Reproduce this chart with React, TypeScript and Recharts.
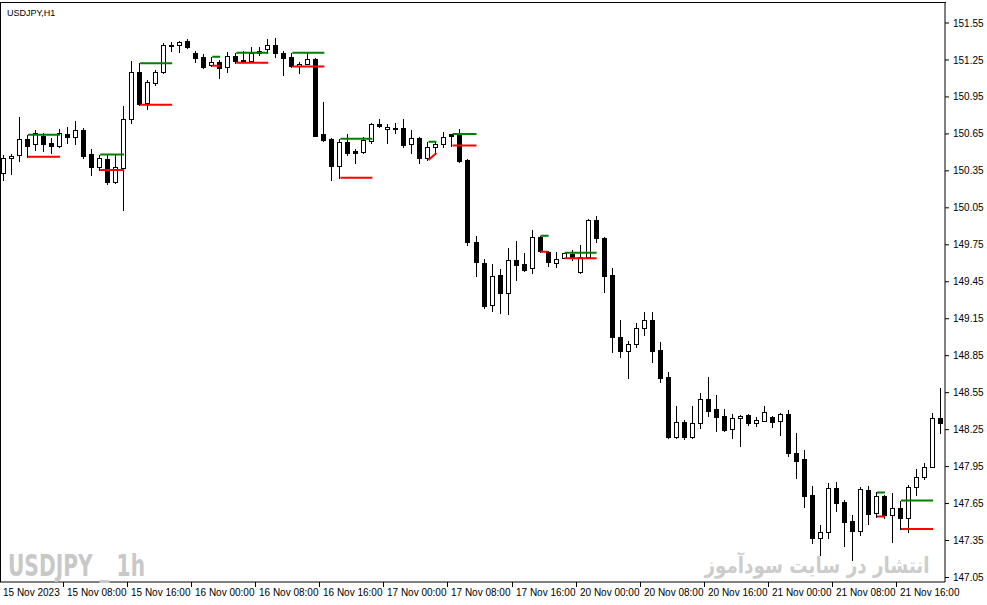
import React from 'react';
import { ComposedChart, Bar, Line, XAxis, YAxis } from 'recharts';

const opens = [
  150.333, 150.455, 150.479, 150.609, 150.568, 150.633, 150.576, 150.552, 150.650, 150.625,
  150.682, 150.487, 150.382, 150.447, 150.260, 150.374, 150.771, 151.153, 150.901, 151.063,
  151.153, 151.368, 151.372, 151.404, 151.307, 151.274, 151.210, 151.234, 151.193, 151.283,
  151.242, 151.242, 151.307, 151.339, 151.372, 151.307, 151.274, 151.201, 151.218, 151.258,
  150.650, 150.609, 150.390, 150.585, 150.512, 150.503, 150.593, 150.731, 150.690, 150.696,
  150.698, 150.568, 150.617, 150.455, 150.544, 150.568, 150.646, 150.650, 150.438, 149.773,
  149.603, 149.262, 149.505, 149.359, 149.627, 149.594, 149.562, 149.814, 149.692, 149.603,
  149.643, 149.676, 149.530, 149.651, 149.951, 149.806, 149.505, 149.002, 148.888, 148.945,
  149.075, 149.140, 148.897, 148.677, 148.190, 148.312, 148.190, 148.304, 148.499, 148.418,
  148.361, 148.255, 148.345, 148.369, 148.304, 148.320, 148.353, 148.320, 148.377, 148.061,
  148.012, 147.720, 147.370, 147.419, 147.777, 147.663, 147.509, 147.428, 147.760, 147.574,
  147.712, 147.557, 147.614, 147.533, 147.785, 147.866, 147.947, 148.345,
];
const highs = [
  150.479, 150.487, 150.788, 150.644, 150.682, 150.658, 150.617, 150.690, 150.706, 150.755,
  150.698, 150.528, 150.482, 150.479, 150.479, 150.877, 151.242, 151.223, 151.088, 151.169,
  151.388, 151.396, 151.404, 151.421, 151.323, 151.299, 151.277, 151.250, 151.315, 151.309,
  151.323, 151.356, 151.356, 151.421, 151.429, 151.323, 151.309, 151.234, 151.307, 151.266,
  150.909, 150.617, 150.611, 150.650, 150.528, 150.625, 150.739, 150.771, 150.731, 150.739,
  150.771, 150.682, 150.625, 150.587, 150.585, 150.666, 150.650, 150.690, 150.443, 149.822,
  149.635, 149.594, 149.554, 149.724, 149.781, 149.684, 149.870, 149.824, 149.696, 149.692,
  149.686, 149.708, 149.749, 149.960, 149.984, 149.810, 149.562, 149.140, 148.970, 149.116,
  149.205, 149.205, 148.962, 148.718, 148.442, 148.328, 148.442, 148.548, 148.677, 148.531,
  148.418, 148.377, 148.365, 148.377, 148.353, 148.442, 148.357, 148.381, 148.409, 148.223,
  148.085, 147.793, 147.476, 147.817, 147.825, 147.679, 147.557, 147.785, 147.793, 147.740,
  147.716, 147.736, 147.674, 147.801, 147.931, 147.980, 148.385, 148.588,
];
const lows = [
  150.276, 150.325, 150.430, 150.465, 150.520, 150.512, 150.495, 150.544, 150.576, 150.568,
  150.455, 150.317, 150.357, 150.244, 150.252, 150.033, 150.739, 150.887, 150.852, 151.047,
  151.145, 151.323, 151.315, 151.347, 151.234, 151.185, 151.204, 151.104, 151.153, 151.228,
  151.230, 151.238, 151.291, 151.307, 151.274, 151.128, 151.196, 151.145, 151.214, 150.629,
  150.593, 150.276, 150.295, 150.479, 150.414, 150.495, 150.576, 150.710, 150.576, 150.658,
  150.544, 150.495, 150.414, 150.438, 150.495, 150.544, 150.555, 150.422, 149.749, 149.497,
  149.237, 149.213, 149.197, 149.189, 149.465, 149.538, 149.521, 149.694, 149.578, 149.570,
  149.641, 149.627, 149.521, 149.643, 149.773, 149.367, 148.880, 148.840, 148.669, 148.921,
  149.018, 148.799, 148.637, 148.182, 148.186, 148.174, 148.182, 148.263, 148.361, 148.239,
  148.239, 148.182, 148.118, 148.288, 148.280, 148.316, 148.272, 148.207, 148.036, 147.858,
  147.623, 147.330, 147.233, 147.370, 147.590, 147.306, 147.192, 147.395, 147.484, 147.544,
  147.533, 147.338, 147.444, 147.419, 147.720, 147.850, 147.943, 148.223,
];
const closes = [
  150.455, 150.471, 150.609, 150.552, 150.658, 150.568, 150.552, 150.658, 150.625, 150.682,
  150.471, 150.382, 150.455, 150.260, 150.382, 150.771, 151.153, 150.893, 151.072, 151.153,
  151.372, 151.372, 151.396, 151.356, 151.266, 151.193, 151.234, 151.185, 151.283, 151.242,
  151.246, 151.307, 151.323, 151.372, 151.307, 151.266, 151.201, 151.218, 151.258, 150.633,
  150.601, 150.390, 150.585, 150.495, 150.495, 150.601, 150.731, 150.714, 150.706, 150.698,
  150.560, 150.617, 150.455, 150.544, 150.568, 150.625, 150.633, 150.430, 149.773, 149.611,
  149.254, 149.497, 149.359, 149.627, 149.586, 149.546, 149.814, 149.696, 149.611, 149.635,
  149.684, 149.643, 149.651, 149.951, 149.806, 149.497, 149.002, 148.888, 148.945, 149.075,
  149.140, 148.888, 148.669, 148.190, 148.312, 148.190, 148.304, 148.499, 148.401, 148.353,
  148.247, 148.345, 148.361, 148.304, 148.328, 148.393, 148.312, 148.377, 148.061, 147.996,
  147.712, 147.370, 147.419, 147.777, 147.655, 147.501, 147.428, 147.768, 147.565, 147.712,
  147.557, 147.614, 147.533, 147.785, 147.866, 147.947, 148.345, 148.304,
];

// Range levels (green = high, red = low of the bar that starts each segment)
const segments = [
  { from: 3, to: 7, high: 150.644, low: 150.465 },
  { from: 12, to: 15, high: 150.482, low: 150.357 },
  { from: 17, to: 21, high: 151.223, low: 150.887 },
  { from: 26, to: 27, high: 151.277, low: 151.204 },
  { from: 29, to: 33, high: 151.309, low: 151.228 },
  { from: 36, to: 40, high: 151.309, low: 151.196 },
  { from: 42, to: 46, high: 150.611, low: 150.295 },
  { from: 53, to: 54, high: 150.587, low: 150.438, lowEnd: 150.495 },
  { from: 56, to: 59, high: 150.650, low: 150.555 },
  { from: 67, to: 68, high: 149.824, low: 149.694 },
  { from: 70, to: 74, high: 149.686, low: 149.641 },
  { from: 109, to: 110, high: 147.740, low: 147.544 },
  { from: 112, to: 116, high: 147.674, low: 147.444 },
];

const tickIndexes = [0, 8, 16, 24, 32, 40, 48, 56, 64, 72, 80, 88, 96, 104, 112];
const tickLabels = [
  '15 Nov 2023', '15 Nov 08:00', '15 Nov 16:00', '16 Nov 00:00', '16 Nov 08:00',
  '16 Nov 16:00', '17 Nov 00:00', '17 Nov 08:00', '17 Nov 16:00', '20 Nov 00:00',
  '20 Nov 08:00', '20 Nov 16:00', '21 Nov 00:00', '21 Nov 08:00', '21 Nov 16:00',
];
const priceTicks = [
  147.05, 147.35, 147.65, 147.95, 148.25, 148.55, 148.85, 149.15,
  149.45, 149.75, 150.05, 150.35, 150.65, 150.95, 151.25, 151.55,
];
const priceDomain = [147.0134, 151.7123];

type Row = {
  i: number; open: number; high: number; low: number; close: number;
  range: [number, number]; green: number | null; red: number | null;
};

const data: Row[] = opens.map((o, i) => ({
  i,
  open: o,
  high: highs[i],
  low: lows[i],
  close: closes[i],
  range: [lows[i], highs[i]],
  green: null,
  red: null,
}));
segments.forEach((s: any) => {
  for (let k = s.from; k <= s.to; k++) {
    data[k].green = s.high;
    data[k].red = s.low;
  }
  if (s.lowEnd != null) data[s.to].red = s.lowEnd;
});

const FONT = '"Liberation Sans", Arial, sans-serif';

const Candle = (props: any) => {
  const { x, y, width, height, payload } = props;
  if (x == null || payload == null) return null;
  const top = Math.min(y, y + height);
  const bot = Math.max(y, y + height);
  const { open, close, high, low } = payload;
  const span = high - low;
  const py = (p: number) => (span === 0 ? top : top + ((high - p) / span) * (bot - top));
  const cx = Math.round(x + width / 2) - 1;
  const bull = close >= open;
  const bTop = Math.round(py(Math.max(open, close)));
  const bBot = Math.round(py(Math.min(open, close)));
  return (
    <g>
      <line x1={cx + 0.5} x2={cx + 0.5} y1={Math.round(top)} y2={Math.round(bot) + 1} stroke="#000" strokeWidth={1} />
      <rect
        x={cx - 2 + 0.5}
        y={bTop + 0.5}
        width={4}
        height={Math.max(bBot - bTop, 1)}
        fill={bull ? '#fff' : '#000'}
        stroke="#000"
        strokeWidth={1}
      />
    </g>
  );
};

const XTick = (props: any) => {
  const { x, y, payload } = props;
  const k = tickIndexes.indexOf(payload.value);
  if (k < 0) return null;
  const tx = Math.round(x) - 1;
  return (
    <g>
      <line x1={tx - 3.5} x2={tx - 3.5} y1={y} y2={y + 5} stroke="#000" strokeWidth={1} />
      <text x={tx} y={y + 14} fontSize={10} fontFamily={FONT} fill="#000" textAnchor="start">
        {tickLabels[k]}
      </text>
    </g>
  );
};

export default function App() {
  return (
    <div style={{ position: 'absolute', left: 0, top: 0, width: 987, height: 605, background: '#fff' }}>
      <ComposedChart
        width={987}
        height={605}
        data={data}
        margin={{ top: 3, right: 0, bottom: 0, left: 0 }}
        barCategoryGap={0}
      >
        <XAxis
          dataKey="i"
          type="category"
          interval={7}
          height={23}
          tickLine={false}
          tickSize={0}
          tickMargin={0}
          axisLine={{ stroke: '#000' }}
          tick={<XTick />}
        />
        <YAxis
          orientation="right"
          type="number"
          domain={priceDomain}
          allowDataOverflow
          ticks={priceTicks}
          interval={0}
          tickFormatter={(v: number) => v.toFixed(2)}
          width={42}
          tickSize={4}
          tickMargin={4}
          axisLine={{ stroke: '#000' }}
          tickLine={{ stroke: '#000' }}
          tick={{ fontSize: 10, fill: '#000', fontFamily: FONT }}
        />
        <Bar dataKey="range" shape={<Candle />} isAnimationActive={false} />
        <Line
          dataKey="green"
          type="linear"
          stroke="#008000"
          strokeWidth={2}
          dot={false}
          activeDot={false}
          connectNulls={false}
          isAnimationActive={false}
        />
        <Line
          dataKey="red"
          type="linear"
          stroke="#ff0000"
          strokeWidth={2}
          dot={false}
          activeDot={false}
          connectNulls={false}
          isAnimationActive={false}
        />
      </ComposedChart>
      <div style={{ position: 'absolute', left: 0, top: 2, width: 946, height: 1, background: '#000' }} />
      <div style={{ position: 'absolute', left: 0, top: 2, width: 1, height: 580, background: '#000' }} />
      <svg width={987} height={605} style={{ position: 'absolute', left: 0, top: 0, pointerEvents: 'none' }}>
        <text x={7} y={16} fontSize={9} fontFamily={FONT} fill="#000">USDJPY,H1</text>
        <text
          x={8}
          y={576}
          fontSize={30}
          fontWeight="bold"
          fontFamily='"DejaVu Sans Condensed", "DejaVu Sans", sans-serif'
          fill="#c8c8c8"
          textLength={137}
          lengthAdjust="spacingAndGlyphs"
        >
          USDJPY _ 1h
        </text>
        <text
          x={817}
          y={573}
          fontSize={22}
          fontWeight="bold"
          fontFamily='"DejaVu Sans", sans-serif'
          fill="#cccccc"
          textAnchor="middle"
          textLength={225}
          lengthAdjust="spacingAndGlyphs"
        >
          انتشار در سایت سودآموز
        </text>
      </svg>
    </div>
  );
}
